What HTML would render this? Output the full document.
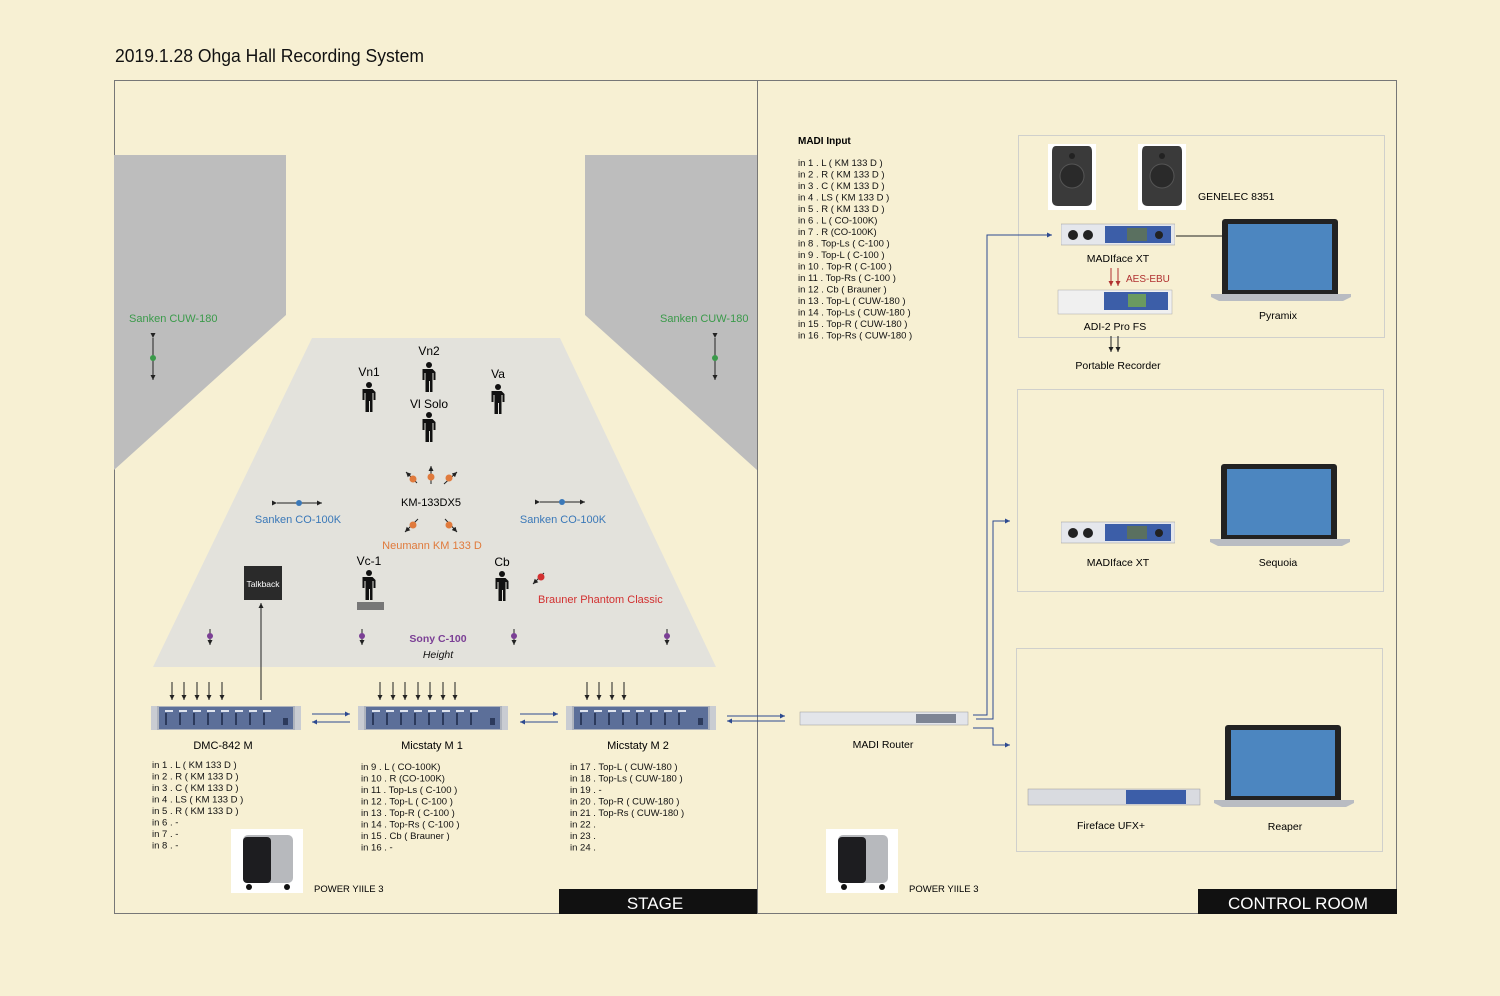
<!DOCTYPE html>
<html><head><meta charset="utf-8"><style>
html,body{margin:0;padding:0;background:#f7f0d3}
svg{display:block}
text{font-family:"Liberation Sans",sans-serif}
.n{font-size:9.5px;fill:#111}
</style></head><body>
<svg width="1500" height="996" viewBox="0 0 1500 996" xmlns="http://www.w3.org/2000/svg">
<defs>
<symbol id="p" viewBox="0 0 16 30"><circle cx="8" cy="3" r="3" fill="#111"/><path d="M3 7h10l3 3v8h-2v-7h-1v19h-2.5v-11h-1v11H6V11H5v7H3z" fill="#111" transform="translate(-1.5,0)"/></symbol>
<symbol id="rack" viewBox="0 0 150 28">
<rect x="0" y="2" width="150" height="24" rx="2" fill="#aeb3bd"/>
<rect x="8" y="3" width="134" height="22" fill="#5c6f99"/>
<rect x="0" y="2" width="6" height="24" fill="#c9ccd2"/><rect x="144" y="2" width="6" height="24" fill="#c9ccd2"/>
<g fill="#dfe4ee"><rect x="14" y="6" width="8" height="2"/><rect x="28" y="6" width="8" height="2"/><rect x="42" y="6" width="8" height="2"/><rect x="56" y="6" width="8" height="2"/><rect x="70" y="6" width="8" height="2"/><rect x="84" y="6" width="8" height="2"/><rect x="98" y="6" width="8" height="2"/><rect x="112" y="6" width="8" height="2"/></g>
<g fill="#2c3a5c"><rect x="14" y="9" width="2" height="12"/><rect x="28" y="9" width="2" height="12"/><rect x="42" y="9" width="2" height="12"/><rect x="56" y="9" width="2" height="12"/><rect x="70" y="9" width="2" height="12"/><rect x="84" y="9" width="2" height="12"/><rect x="98" y="9" width="2" height="12"/><rect x="112" y="9" width="2" height="12"/><rect x="132" y="14" width="5" height="7"/></g>
</symbol>
<symbol id="lap" viewBox="0 0 140 85">
<path d="M14 2h110a3 3 0 0 1 3 3v73H11V5a3 3 0 0 1 3-3z" fill="#222"/>
<rect x="17" y="7" width="104" height="66" fill="#4c86c0"/>
<path d="M0 77h140v3l-8 4H8l-8-4z" fill="#b9bcc2"/>
</symbol>
<symbol id="mf" viewBox="0 0 114 24">
<rect x="0" y="1" width="114" height="21" fill="#e5e7ec" stroke="#999" stroke-width=".5"/>
<rect x="44" y="3" width="66" height="17" fill="#3c5ea8"/>
<rect x="66" y="5" width="20" height="13" fill="#5a7060"/>
<circle cx="12" cy="12" r="5" fill="#222"/><circle cx="27" cy="12" r="5" fill="#222"/>
<circle cx="98" cy="12" r="4" fill="#222"/>
</symbol>
<symbol id="pw" viewBox="0 0 72 64">
<rect width="72" height="64" fill="#fff"/>
<rect x="12" y="6" width="50" height="48" rx="5" fill="#b7b9bd"/>
<rect x="12" y="8" width="28" height="46" rx="4" fill="#1d1d20"/>
<circle cx="18" cy="58" r="3" fill="#111"/><circle cx="56" cy="58" r="3" fill="#111"/>
</symbol>
<marker id="a" viewBox="0 0 6 6" refX="6" refY="3" markerWidth="5" markerHeight="5" orient="auto"><path d="M0 0L6 3 0 6z" fill="#222"/></marker>
<marker id="ab" viewBox="0 0 6 6" refX="6" refY="3" markerWidth="5" markerHeight="5" orient="auto"><path d="M0 0L6 3 0 6z" fill="#2d4a90"/></marker>
<marker id="ar" viewBox="0 0 6 6" refX="6" refY="3" markerWidth="5" markerHeight="5" orient="auto"><path d="M0 0L6 3 0 6z" fill="#b03030"/></marker>
</defs>

<text x="115" y="62" font-size="18" fill="#111" textLength="309" lengthAdjust="spacingAndGlyphs">2019.1.28 Ohga Hall Recording System</text>
<rect x="114.5" y="80.5" width="1282" height="833" fill="none" stroke="#777" stroke-width="1"/>
<line x1="757.5" y1="80" x2="757.5" y2="914" stroke="#777"/>

<polygon points="114,155 286,155 286,315 114,470" fill="#bdbdbd"/>
<polygon points="585,155 757,155 757,470 585,315" fill="#bdbdbd"/>
<polygon points="312,338 560,338 716,667 153,667" fill="#e3e2dc"/>

<text x="129" y="322" font-size="11" fill="#3a9a4a">Sanken CUW-180</text>
<text x="660" y="322" font-size="11" fill="#3a9a4a">Sanken CUW-180</text>
<line x1="153" y1="338" x2="153" y2="380" stroke="#222" marker-end="url(#a)" marker-start="url(#a)"/><circle cx="153" cy="358" r="3" fill="#3a9a4a"/>
<line x1="715" y1="338" x2="715" y2="380" stroke="#222" marker-end="url(#a)" marker-start="url(#a)"/><circle cx="715" cy="358" r="3" fill="#3a9a4a"/>

<text x="429" y="355" text-anchor="middle" font-size="12">Vn2</text>
<text x="369" y="376" text-anchor="middle" font-size="12">Vn1</text>
<text x="498" y="378" text-anchor="middle" font-size="12">Va</text>
<text x="429" y="408" text-anchor="middle" font-size="12">Vl Solo</text>
<use href="#p" x="421" y="362" width="16" height="30"/>
<use href="#p" x="361" y="382" width="16" height="30"/>
<use href="#p" x="490" y="384" width="16" height="30"/>
<use href="#p" x="421" y="412" width="16" height="30"/>
<use href="#p" x="361" y="570" width="16" height="30"/>
<use href="#p" x="494" y="571" width="16" height="30"/>
<text x="369" y="565" text-anchor="middle" font-size="12">Vc-1</text>
<text x="502" y="566" text-anchor="middle" font-size="12">Cb</text>
<rect x="357" y="602" width="27" height="8" fill="#777"/>

<g stroke="#222" stroke-width="1">
<line x1="417" y1="483" x2="406" y2="472" marker-end="url(#a)"/><line x1="431" y1="484" x2="431" y2="466" marker-end="url(#a)"/><line x1="444" y1="484" x2="457" y2="472" marker-end="url(#a)"/>
<line x1="418" y1="519" x2="405" y2="532" marker-end="url(#a)"/><line x1="445" y1="519" x2="457" y2="532" marker-end="url(#a)"/>
<line x1="544" y1="573" x2="533" y2="584" marker-end="url(#a)"/>
</g>
<g fill="#e07a3c"><circle cx="413" cy="479" r="3.5"/><circle cx="431" cy="477" r="3.5"/><circle cx="449" cy="478" r="3.5"/><circle cx="413" cy="525" r="3.5"/><circle cx="449" cy="525" r="3.5"/></g>
<circle cx="541" cy="577" r="3.5" fill="#d23030"/>
<text x="431" y="506" text-anchor="middle" font-size="11">KM-133DX5</text>
<text x="432" y="549" text-anchor="middle" font-size="11" fill="#e07a3c">Neumann KM 133 D</text>
<text x="538" y="603" font-size="11" fill="#d23030">Brauner Phantom Classic</text>

<line x1="277" y1="503" x2="322" y2="503" stroke="#222" marker-end="url(#a)" marker-start="url(#a)"/><circle cx="299" cy="503" r="3" fill="#3a78b8"/>
<line x1="540" y1="502" x2="585" y2="502" stroke="#222" marker-end="url(#a)" marker-start="url(#a)"/><circle cx="562" cy="502" r="3" fill="#3a78b8"/>
<text x="298" y="523" text-anchor="middle" font-size="11" fill="#3a78b8">Sanken CO-100K</text>
<text x="563" y="523" text-anchor="middle" font-size="11" fill="#3a78b8">Sanken CO-100K</text>

<rect x="244" y="566" width="38" height="34" fill="#2a2a2a"/>
<text x="263" y="587" text-anchor="middle" font-size="8.5" fill="#fff">Talkback</text>
<line x1="261" y1="700" x2="261" y2="603" stroke="#222" marker-end="url(#a)"/>

<g stroke="#222"><line x1="210" y1="629" x2="210" y2="645" marker-end="url(#a)"/><line x1="362" y1="629" x2="362" y2="645" marker-end="url(#a)"/><line x1="514" y1="629" x2="514" y2="645" marker-end="url(#a)"/><line x1="667" y1="629" x2="667" y2="645" marker-end="url(#a)"/></g>
<g fill="#7b3f95"><circle cx="210" cy="636" r="3"/><circle cx="362" cy="636" r="3"/><circle cx="514" cy="636" r="3"/><circle cx="667" cy="636" r="3"/></g>
<text x="438" y="642" text-anchor="middle" font-size="10.5" font-weight="bold" fill="#7b3f95">Sony C-100</text>
<text x="438" y="658" text-anchor="middle" font-size="10.5" font-style="italic" fill="#111">Height</text>

<g stroke="#222">
<line x1="172" y1="682" x2="172" y2="700" marker-end="url(#a)"/><line x1="184" y1="682" x2="184" y2="700" marker-end="url(#a)"/><line x1="197" y1="682" x2="197" y2="700" marker-end="url(#a)"/><line x1="209" y1="682" x2="209" y2="700" marker-end="url(#a)"/><line x1="222" y1="682" x2="222" y2="700" marker-end="url(#a)"/>
<line x1="380" y1="682" x2="380" y2="700" marker-end="url(#a)"/><line x1="393" y1="682" x2="393" y2="700" marker-end="url(#a)"/><line x1="405" y1="682" x2="405" y2="700" marker-end="url(#a)"/><line x1="418" y1="682" x2="418" y2="700" marker-end="url(#a)"/><line x1="430" y1="682" x2="430" y2="700" marker-end="url(#a)"/><line x1="443" y1="682" x2="443" y2="700" marker-end="url(#a)"/><line x1="455" y1="682" x2="455" y2="700" marker-end="url(#a)"/>
<line x1="587" y1="682" x2="587" y2="700" marker-end="url(#a)"/><line x1="599" y1="682" x2="599" y2="700" marker-end="url(#a)"/><line x1="612" y1="682" x2="612" y2="700" marker-end="url(#a)"/><line x1="624" y1="682" x2="624" y2="700" marker-end="url(#a)"/>
</g>
<use href="#rack" x="151" y="704" width="150" height="28"/>
<use href="#rack" x="358" y="704" width="150" height="28"/>
<use href="#rack" x="566" y="704" width="150" height="28"/>
<g stroke="#2d4a90"><line x1="312" y1="714" x2="350" y2="714" marker-end="url(#ab)"/><line x1="350" y1="722" x2="312" y2="722" marker-end="url(#ab)"/>
<line x1="520" y1="714" x2="558" y2="714" marker-end="url(#ab)"/><line x1="558" y1="722" x2="520" y2="722" marker-end="url(#ab)"/>
<line x1="727" y1="716" x2="785" y2="716" marker-end="url(#ab)"/><line x1="785" y1="721" x2="727" y2="721" marker-end="url(#ab)"/></g>

<text x="223" y="749" text-anchor="middle" font-size="11">DMC-842 M</text>
<text x="432" y="749" text-anchor="middle" font-size="11">Micstaty M 1</text>
<text x="638" y="749" text-anchor="middle" font-size="11">Micstaty M 2</text>
<text class="n" x="152" y="768"><tspan x="152">in 1 . L ( KM 133 D )</tspan><tspan x="152" dy="11.5">in 2 . R ( KM 133 D )</tspan><tspan x="152" dy="11.5">in 3 . C ( KM 133 D )</tspan><tspan x="152" dy="11.5">in 4 . LS ( KM 133 D )</tspan><tspan x="152" dy="11.5">in 5 . R ( KM 133 D )</tspan><tspan x="152" dy="11.5">in 6 . -</tspan><tspan x="152" dy="11.5">in 7 . -</tspan><tspan x="152" dy="11.5">in 8 . -</tspan></text>
<text class="n" x="361" y="770"><tspan x="361">in 9  . L ( CO-100K)</tspan><tspan x="361" dy="11.5">in 10 . R (CO-100K)</tspan><tspan x="361" dy="11.5">in 11 . Top-Ls ( C-100 )</tspan><tspan x="361" dy="11.5">in 12 . Top-L ( C-100 )</tspan><tspan x="361" dy="11.5">in 13 . Top-R ( C-100 )</tspan><tspan x="361" dy="11.5">in 14 . Top-Rs ( C-100 )</tspan><tspan x="361" dy="11.5">in 15 . Cb ( Brauner )</tspan><tspan x="361" dy="11.5">in 16 . -</tspan></text>
<text class="n" x="570" y="770"><tspan x="570">in 17 . Top-L ( CUW-180 )</tspan><tspan x="570" dy="11.5">in 18 . Top-Ls ( CUW-180 )</tspan><tspan x="570" dy="11.5">in 19 . -</tspan><tspan x="570" dy="11.5">in 20 . Top-R ( CUW-180 )</tspan><tspan x="570" dy="11.5">in 21 . Top-Rs ( CUW-180 )</tspan><tspan x="570" dy="11.5">in 22 .</tspan><tspan x="570" dy="11.5">in 23 .</tspan><tspan x="570" dy="11.5">in 24 .</tspan></text>

<use href="#pw" x="231" y="829" width="72" height="64"/>
<text x="314" y="892" font-size="9.5">POWER YIILE 3</text>
<use href="#pw" x="826" y="829" width="72" height="64"/>
<text x="909" y="892" font-size="9.5">POWER YIILE 3</text>

<rect x="559" y="889" width="198" height="25" fill="#111"/>
<text x="655" y="909" text-anchor="middle" font-size="17" fill="#fff">STAGE</text>
<rect x="1198" y="889" width="199" height="25" fill="#111"/>
<text x="1298" y="909" text-anchor="middle" font-size="17" fill="#fff">CONTROL ROOM</text>

<text x="798" y="144" font-size="10" font-weight="bold">MADI Input</text>
<text class="n" x="798" y="166"><tspan x="798">in 1 . L ( KM 133 D )</tspan><tspan x="798" dy="11.5">in 2 . R ( KM 133 D )</tspan><tspan x="798" dy="11.5">in 3 . C ( KM 133 D )</tspan><tspan x="798" dy="11.5">in 4 . LS ( KM 133 D )</tspan><tspan x="798" dy="11.5">in 5 . R ( KM 133 D )</tspan><tspan x="798" dy="11.5">in 6 . L ( CO-100K)</tspan><tspan x="798" dy="11.5">in 7 . R (CO-100K)</tspan><tspan x="798" dy="11.5">in 8 . Top-Ls ( C-100 )</tspan><tspan x="798" dy="11.5">in 9 . Top-L ( C-100 )</tspan><tspan x="798" dy="11.5">in 10 . Top-R ( C-100 )</tspan><tspan x="798" dy="11.5">in 11 . Top-Rs ( C-100 )</tspan><tspan x="798" dy="11.5">in 12 . Cb ( Brauner )</tspan><tspan x="798" dy="11.5">in 13 . Top-L ( CUW-180 )</tspan><tspan x="798" dy="11.5">in 14 . Top-Ls ( CUW-180 )</tspan><tspan x="798" dy="11.5">in 15 . Top-R ( CUW-180 )</tspan><tspan x="798" dy="11.5">in 16 . Top-Rs ( CUW-180 )</tspan></text>

<rect x="1018.5" y="135.5" width="366" height="202" fill="none" stroke="#d0d0cc"/>
<rect x="1017.5" y="389.5" width="366" height="202" fill="none" stroke="#d0d0cc"/>
<rect x="1016.5" y="648.5" width="366" height="203" fill="none" stroke="#d0d0cc"/>

<g><rect x="1048" y="144" width="48" height="66" fill="#fff"/><path d="M1056 146h32q4 0 4 6v48q0 6-6 6h-28q-6 0-6-6v-48q0-6 4-6z" fill="#3a3a3a"/><circle cx="1072" cy="176" r="12" fill="#2a2a2a" stroke="#555"/><circle cx="1072" cy="156" r="3" fill="#222"/>
<rect x="1138" y="144" width="48" height="66" fill="#fff"/><path d="M1146 146h32q4 0 4 6v48q0 6-6 6h-28q-6 0-6-6v-48q0-6 4-6z" fill="#3a3a3a"/><circle cx="1162" cy="176" r="12" fill="#2a2a2a" stroke="#555"/><circle cx="1162" cy="156" r="3" fill="#222"/></g>
<text x="1198" y="200" font-size="10.5">GENELEC 8351</text>
<use href="#mf" x="1061" y="223" width="114" height="24"/>
<line x1="1176" y1="236" x2="1224" y2="236" stroke="#222"/>
<use href="#lap" x="1211" y="217" width="140" height="85"/>
<text x="1118" y="262" text-anchor="middle" font-size="10.5">MADIface XT</text>
<g stroke="#b03030"><line x1="1111" y1="268" x2="1111" y2="286" marker-end="url(#ar)"/><line x1="1118" y1="268" x2="1118" y2="286" marker-end="url(#ar)"/></g>
<text x="1126" y="282" font-size="10" fill="#b03030">AES-EBU</text>
<rect x="1058" y="290" width="114" height="24" fill="#f0f0f0" stroke="#aaa" stroke-width=".5"/><rect x="1104" y="292" width="64" height="18" fill="#3c5ea8"/><rect x="1128" y="294" width="18" height="13" fill="#6a9a60"/>
<text x="1115" y="330" text-anchor="middle" font-size="10.5">ADI-2 Pro FS</text>
<text x="1278" y="319" text-anchor="middle" font-size="10.5">Pyramix</text>
<g stroke="#222"><line x1="1111" y1="336" x2="1111" y2="352" marker-end="url(#a)"/><line x1="1118" y1="336" x2="1118" y2="352" marker-end="url(#a)"/></g>
<text x="1118" y="369" text-anchor="middle" font-size="10.5">Portable Recorder</text>

<use href="#mf" x="1061" y="521" width="114" height="24"/>
<text x="1118" y="566" text-anchor="middle" font-size="10.5">MADIface XT</text>
<use href="#lap" x="1210" y="462" width="140" height="85"/>
<text x="1278" y="566" text-anchor="middle" font-size="10.5">Sequoia</text>

<rect x="1028" y="789" width="172" height="16" fill="#d9dbe0" stroke="#999" stroke-width=".5"/><rect x="1126" y="790" width="60" height="14" fill="#3c5ea8"/>
<text x="1111" y="829" text-anchor="middle" font-size="10.5">Fireface UFX+</text>
<use href="#lap" x="1214" y="723" width="140" height="85"/>
<text x="1285" y="830" text-anchor="middle" font-size="10.5">Reaper</text>

<rect x="800" y="712" width="168" height="13" fill="#e3e5ea" stroke="#999" stroke-width=".5"/><rect x="916" y="714" width="40" height="9" fill="#7e8594"/>
<text x="883" y="748" text-anchor="middle" font-size="10.5">MADI Router</text>
<g stroke="#2d4a90" fill="none">
<polyline points="973,715 987,715 987,235 1052,235" marker-end="url(#ab)"/>
<polyline points="976,719 993,719 993,521 1010,521" marker-end="url(#ab)"/>
<polyline points="973,728 993,728 993,745 1010,745" marker-end="url(#ab)"/>
</g>
</svg>
</body></html>
